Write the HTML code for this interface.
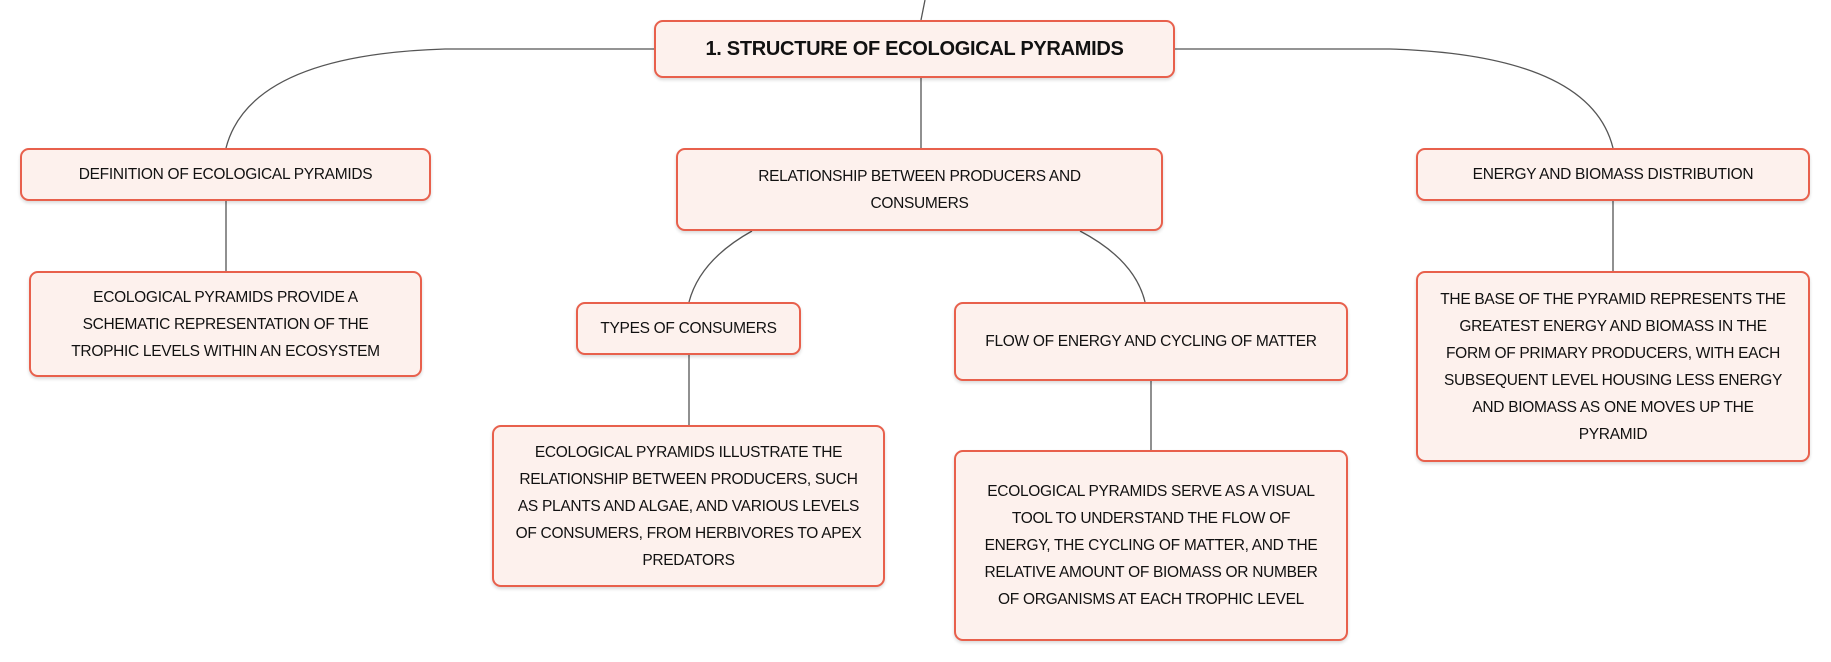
<!DOCTYPE html>
<html><head><meta charset="utf-8"><style>
body{margin:0;width:1831px;height:662px;background:#fff;position:relative;overflow:hidden;font-family:"Liberation Sans",sans-serif;}
.b{position:absolute;box-sizing:border-box;background:#fdf1ed;border:2.5px solid #e8604c;border-radius:9px;display:flex;align-items:center;justify-content:center;text-align:center;font-size:15.5px;line-height:27px;color:#111;box-shadow:0 2px 3px rgba(0,0,0,.15);padding:0 4px;letter-spacing:-0.3px;white-space:nowrap}
svg{position:absolute;left:0;top:0}
</style></head><body>
<svg width="1831" height="662" fill="none" stroke="#555" stroke-width="1.3">
<path d="M921 20 L925 0"/>
<path d="M654 49 L445 49 Q250 55 226 148"/>
<path d="M1175 49 L1390 49 Q1590 55 1613 148"/>
<path d="M921 78 L921 148"/>
<path d="M752 231 Q700 260 689 302"/>
<path d="M1080 231 Q1135 260 1145 302"/>
<path d="M226 201 L226 271"/>
<path d="M689 355 L689 425"/>
<path d="M1151 381 L1151 450"/>
<path d="M1613 201 L1613 271"/>
</svg>
<div class="b" style="left:654px;top:20px;width:521px;height:58px;font-weight:bold;font-size:20px">1. STRUCTURE OF ECOLOGICAL PYRAMIDS</div>
<div class="b" style="left:20px;top:148px;width:411px;height:53px">DEFINITION OF ECOLOGICAL PYRAMIDS</div>
<div class="b" style="left:29px;top:271px;width:393px;height:106px">ECOLOGICAL PYRAMIDS PROVIDE A<br>SCHEMATIC REPRESENTATION OF THE<br>TROPHIC LEVELS WITHIN AN ECOSYSTEM</div>
<div class="b" style="left:676px;top:148px;width:487px;height:83px">RELATIONSHIP BETWEEN PRODUCERS AND<br>CONSUMERS</div>
<div class="b" style="left:576px;top:302px;width:225px;height:53px">TYPES OF CONSUMERS</div>
<div class="b" style="left:492px;top:425px;width:393px;height:162px">ECOLOGICAL PYRAMIDS ILLUSTRATE THE<br>RELATIONSHIP BETWEEN PRODUCERS, SUCH<br>AS PLANTS AND ALGAE, AND VARIOUS LEVELS<br>OF CONSUMERS, FROM HERBIVORES TO APEX<br>PREDATORS</div>
<div class="b" style="left:954px;top:302px;width:394px;height:79px">FLOW OF ENERGY AND CYCLING OF MATTER</div>
<div class="b" style="left:954px;top:450px;width:394px;height:191px">ECOLOGICAL PYRAMIDS SERVE AS A VISUAL<br>TOOL TO UNDERSTAND THE FLOW OF<br>ENERGY, THE CYCLING OF MATTER, AND THE<br>RELATIVE AMOUNT OF BIOMASS OR NUMBER<br>OF ORGANISMS AT EACH TROPHIC LEVEL</div>
<div class="b" style="left:1416px;top:148px;width:394px;height:53px">ENERGY AND BIOMASS DISTRIBUTION</div>
<div class="b" style="left:1416px;top:271px;width:394px;height:191px">THE BASE OF THE PYRAMID REPRESENTS THE<br>GREATEST ENERGY AND BIOMASS IN THE<br>FORM OF PRIMARY PRODUCERS, WITH EACH<br>SUBSEQUENT LEVEL HOUSING LESS ENERGY<br>AND BIOMASS AS ONE MOVES UP THE<br>PYRAMID</div>
</body></html>
